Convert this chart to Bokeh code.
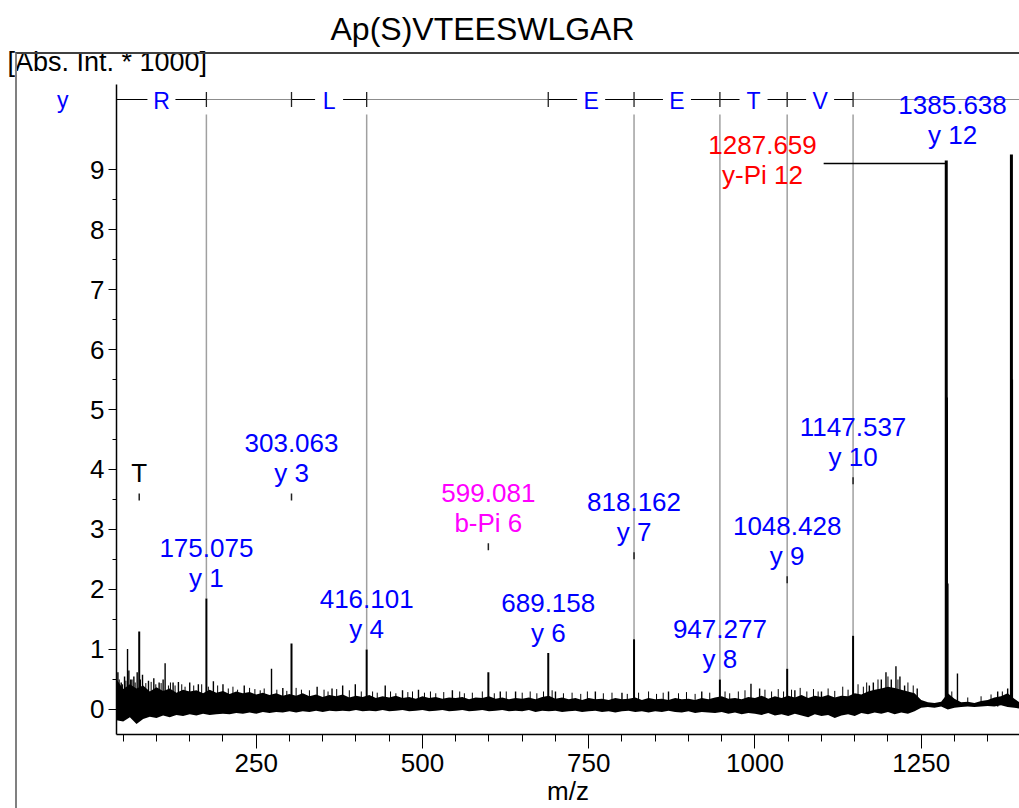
from bokeh.plotting import figure
from bokeh.models import (Range1d, FixedTicker, LinearAxis, Title, ColumnDataSource,
                          InlineStyleSheet)
from bokeh.embed import file_html
from bokeh.resources import INLINE
from bokeh.core.properties import value

FONT = "Liberation Sans"

# ---------------- data ----------------
title_text = "Ap(S)VTEESWLGAR"
y_title = "[Abs. Int. * 1000]"
x_title = "m/z"
series_name = "y"

x_ticks = [250, 500, 750, 1000, 1250]
x_minor = [50, 100, 150, 200, 300, 350, 400, 450, 550, 600, 650, 700, 800, 850,
           900, 950, 1050, 1100, 1150, 1200, 1300, 1350]
y_ticks = [0, 1, 2, 3, 4, 5, 6, 7, 8, 9]
y_minor = [0.5, 1.5, 2.5, 3.5, 4.5, 5.5, 6.5, 7.5, 8.5]

# labelled peaks
lab_mz = [74.06, 175.075, 303.063, 416.101, 599.081, 689.158, 818.162, 947.277,
          1048.428, 1147.537, 1287.659, 1385.638]
lab_int = [1.30, 1.85, 1.10, 1.00, 0.62, 0.94, 1.17, 0.50, 0.68, 1.23, 9.15, 9.25]
lab_value = ["", "175.075", "303.063", "416.101", "599.081", "689.158", "818.162",
             "947.277", "1048.428", "1147.537", "1287.659", "1385.638"]
lab_name = ["T", "y 1", "y 3", "y 4", "b-Pi 6", "y 6", "y 7", "y 8", "y 9", "y 10",
            "y-Pi 12", "y 12"]
lab_color = ["black", "blue", "blue", "blue", "magenta", "blue", "blue", "blue",
             "blue", "blue", "red", "blue"]
# where each label sits (intensity) and its centre m/z
lab_at = [3.60, 1.85, 3.60, 1.00, 2.77, 0.94, 2.62, 0.50, 2.22, 3.87, 8.57, 9.25]
lab_x = [74.06, 175.075, 303.063, 416.101, 599.081, 689.158, 818.162, 947.277,
         1048.428, 1147.537, 1011.4, 1297.1]
leader_from = 1103.3   # m/z where the y-Pi 12 leader line starts
leader_at = 9.10

# isotope peaks next to the big ions
iso_mz = [1288.66, 1289.66, 1386.64]
iso_int = [5.2, 2.1, 5.5]

# sequence ladder (y series)
ladder_res = ["R", "L", "E", "E", "T", "V"]
ladder_start = [19.018, 303.063, 689.158, 818.162, 947.277, 1048.428]
ladder_end = [175.075, 416.101, 818.162, 947.277, 1048.428, 1147.537]

# noise spikes
spike_mz = [42, 47, 52, 56.5, 58.5, 63, 66, 71, 79, 88, 96, 104, 110, 113, 125, 133,
            150, 163, 185.6, 200, 232, 273, 290, 341.6, 364, 380, 399, 444, 470, 494,
            545, 617, 640, 700, 760, 800, 870, 920, 994, 1007, 1060, 1100, 1172,
            1178, 1190, 1197, 1205, 1212, 1218, 1225, 1244, 1304.5, 1365, 1380]
spike_h = [0.62, 0.45, 0.55, 1.01, 0.65, 0.50, 0.55, 0.62, 0.58, 0.48, 0.52, 0.45,
           0.50, 0.77, 0.45, 0.46, 0.45, 0.42, 0.47, 0.42, 0.40, 0.68, 0.36, 0.38,
           0.35, 0.40, 0.42, 0.40, 0.32, 0.33, 0.32, 0.30, 0.30, 0.30, 0.30, 0.28,
           0.30, 0.30, 0.43, 0.35, 0.32, 0.30, 0.40, 0.45, 0.50, 0.62, 0.50, 0.72,
           0.55, 0.40, 0.35, 0.60, 0.30, 0.35]
fine_mz = [44, 49, 54, 61, 68, 76, 84, 92, 99, 107, 118, 121, 128, 138, 143, 156, 168,
           178, 192, 208, 215, 222, 240, 248, 256, 262, 281, 296, 310, 318, 330, 352,
           358, 371, 390, 408, 425, 432, 452, 460, 478, 485, 503, 512, 520, 532, 556,
           563, 575, 590, 608, 626, 650, 662, 672, 682, 695, 712, 725, 738, 748, 772,
           785, 808, 825, 840, 852, 862, 885, 897, 910, 932, 955, 962, 975, 985, 1015,
           1025, 1035, 1043, 1055, 1068, 1078, 1088, 1095, 1110, 1120, 1132, 1140,
           1155, 1163, 1168, 1185, 1200, 1215, 1230, 1238, 1296, 1320, 1340, 1355,
           1372]
fine_h = [0.50, 0.42, 0.48, 0.50, 0.45, 0.50, 0.44, 0.46, 0.42, 0.44, 0.40, 0.45,
          0.40, 0.42, 0.38, 0.40, 0.42, 0.38, 0.40, 0.35, 0.38, 0.33, 0.36, 0.34,
          0.32, 0.35, 0.33, 0.31, 0.36, 0.33, 0.32, 0.33, 0.30, 0.34, 0.32, 0.30,
          0.30, 0.28, 0.30, 0.27, 0.29, 0.30, 0.28, 0.30, 0.27, 0.29, 0.30, 0.27,
          0.28, 0.30, 0.27, 0.30, 0.28, 0.30, 0.27, 0.30, 0.32, 0.27, 0.28, 0.26,
          0.30, 0.27, 0.28, 0.26, 0.28, 0.30, 0.26, 0.28, 0.27, 0.29, 0.26, 0.28,
          0.30, 0.27, 0.30, 0.32, 0.33, 0.30, 0.34, 0.30, 0.33, 0.36, 0.30, 0.34,
          0.30, 0.35, 0.31, 0.38, 0.33, 0.42, 0.38, 0.45, 0.50, 0.55, 0.50, 0.45,
          0.40, 0.30, 0.20, 0.22, 0.25, 0.30]

# noise band envelope (every 10 m/z from 40 to 1400)
noise_mz = list(range(40, 1401, 10))
noise_hi = [0.50, 0.34, 0.42, 0.35, 0.40, 0.30, 0.37, 0.31, 0.35, 0.28,
            0.33, 0.30, 0.32, 0.27, 0.33, 0.28, 0.31, 0.26, 0.30, 0.27,
            0.29, 0.25, 0.28, 0.24, 0.27, 0.23, 0.26, 0.23, 0.27, 0.22,
            0.25, 0.21, 0.24, 0.22, 0.25, 0.20, 0.23, 0.21, 0.24, 0.19,
            0.22, 0.20, 0.23, 0.19, 0.21, 0.18, 0.22, 0.19, 0.21, 0.18,
            0.20, 0.19, 0.21, 0.17, 0.20, 0.19, 0.22, 0.18, 0.20, 0.17,
            0.19, 0.18, 0.20, 0.17, 0.21, 0.23, 0.18, 0.20, 0.17, 0.19,
            0.16, 0.19, 0.17, 0.18, 0.16, 0.19, 0.17, 0.18, 0.20, 0.16,
            0.19, 0.17, 0.18, 0.16, 0.19, 0.17, 0.18, 0.16, 0.19, 0.17,
            0.20, 0.22, 0.18, 0.19, 0.17, 0.21, 0.19, 0.23, 0.18, 0.22,
            0.19, 0.23, 0.20, 0.24, 0.19, 0.23, 0.21, 0.24, 0.20, 0.23,
            0.22, 0.27, 0.25, 0.30, 0.33, 0.35, 0.38, 0.36, 0.33, 0.30,
            0.27, 0.16, 0.12, 0.11, 0.13, 0.27, 0.18, 0.12, 0.13, 0.11,
            0.14, 0.16, 0.20, 0.22, 0.27, 0.18, 0.10]
noise_lo = [-0.18, -0.20, -0.13, -0.24, -0.16, -0.12, -0.14, -0.10, -0.13, -0.09,
            -0.11, -0.08, -0.10, -0.07, -0.09, -0.08, -0.07, -0.08, -0.06, -0.07,
            -0.05, -0.07, -0.04, -0.06, -0.04, -0.05, -0.03, -0.05, -0.03, -0.04,
            -0.02, -0.04, -0.02, -0.03, -0.02, -0.03, -0.01, -0.03, -0.02, -0.03,
            -0.01, -0.03, -0.02, -0.01, -0.03, -0.02, -0.01, -0.03, -0.02, -0.01,
            -0.03, -0.02, -0.01, -0.03, -0.02, -0.01, -0.03, -0.02, -0.01, -0.03,
            -0.02, -0.03, -0.01, -0.04, -0.02, -0.03, -0.02, -0.04, -0.03, -0.02,
            -0.04, -0.03, -0.02, -0.04, -0.03, -0.05, -0.03, -0.02, -0.04, -0.03,
            -0.05, -0.03, -0.04, -0.02, -0.04, -0.05, -0.03, -0.06, -0.04, -0.05,
            -0.06, -0.04, -0.07, -0.05, -0.08, -0.06, -0.07, -0.09, -0.06, -0.10,
            -0.08, -0.11, -0.07, -0.10, -0.13, -0.08, -0.11, -0.09, -0.14, -0.10,
            -0.08, -0.11, -0.06, -0.08, -0.05, -0.07, -0.04, -0.08, -0.05, -0.07,
            -0.03, 0.03, 0.04, 0.03, 0.05, 0.00, 0.03, 0.04, 0.05, 0.04,
            0.05, 0.06, 0.05, 0.07, 0.04, 0.03, 0.01]

# ---------------- layout ----------------
W, H = 1019, 808
FL, FR, FT, FB = 116, 1019, 84, 734          # frame edges in canvas px
X0, X1 = 39.9, 1397.8
Y0, Y1 = -0.417, 10.417
PXV = (FB - FT) / (Y1 - Y0)                  # px per intensity unit
PXM = (FR - FL) / (X1 - X0)                  # px per m/z unit


def dv(px):
    return px / PXV


def dm(px):
    return px / PXM


def v_at(py):
    return Y0 + (FB - py) / PXV


p = figure(width=W, height=H, x_range=Range1d(X0, X1), y_range=Range1d(Y0, Y1),
           output_backend="svg", toolbar_location=None,
           min_border_left=FL, min_border_right=W - FR,
           min_border_top=FT, min_border_bottom=H - FB)
p.outline_line_color = None
p.grid.visible = False
p.background_fill_color = "white"
p.border_fill_color = "white"

xa = p.xaxis[0]
xa.ticker = FixedTicker(ticks=x_ticks, minor_ticks=x_minor)
xa.major_tick_out = 14
xa.major_tick_in = 0
xa.minor_tick_out = 7
xa.minor_tick_in = 0
xa.major_label_standoff = 5
xa.major_label_text_font = FONT
xa.major_label_text_font_size = "26px"
xa.major_label_text_color = "black"
xa.axis_line_color = "black"
xa.axis_line_width = 1.5
xa.major_tick_line_color = "black"
xa.minor_tick_line_color = "black"
xa.axis_label = x_title
xa.axis_label_standoff = 1
xa.axis_label_text_font = FONT
xa.axis_label_text_font_size = "26px"
xa.axis_label_text_font_style = "normal"
xa.axis_label_text_color = "black"

ya = p.yaxis[0]
ya.ticker = FixedTicker(ticks=y_ticks, minor_ticks=y_minor)
ya.major_tick_out = 8
ya.major_tick_in = 0
ya.minor_tick_out = 4
ya.minor_tick_in = 0
ya.major_label_standoff = 4
ya.major_label_text_font = FONT
ya.major_label_text_font_size = "26px"
ya.major_label_text_color = "black"
ya.axis_line_color = "black"
ya.axis_line_width = 1.5
ya.major_tick_line_color = "black"
ya.minor_tick_line_color = "black"

# ---------------- fragment ladder ----------------
LAD_Y = v_at(99)
LAD_TXT = v_at(100)
TICK_H = dv(7.5)
ION_TOP = v_at(114)
GAP = dm(14)

# series name "y" left of the axis, carried by a second (invisible) left axis
ya2 = LinearAxis(ticker=FixedTicker(ticks=[LAD_Y], minor_ticks=[]),
                 major_label_overrides={LAD_Y: series_name})
ya2.axis_line_color = None
ya2.major_tick_line_color = None
ya2.minor_tick_line_color = None
ya2.major_tick_out = 0
ya2.major_tick_in = 0
ya2.major_label_standoff = 19
ya2.major_label_text_font = FONT
ya2.major_label_text_font_size = "23px"
ya2.major_label_text_color = "blue"
p.add_layout(ya2, "left")

vis_start = [max(s, X0) for s in ladder_start]
centers = [(s + e) / 2 for s, e in zip(vis_start, ladder_end)]

bx0, bx1 = [], []
for s, c, e in zip(vis_start, centers, ladder_end):
    bx0 += [s, c + GAP]
    bx1 += [c - GAP, e]
p.segment(x0=bx0, y0=[LAD_Y] * len(bx0), x1=bx1, y1=[LAD_Y] * len(bx1),
          line_color="black", line_width=1)

gx0, gx1 = [], []
for i in range(len(ladder_end)):
    nxt = ladder_start[i + 1] if i + 1 < len(ladder_start) else X1
    if nxt > ladder_end[i]:
        gx0.append(ladder_end[i])
        gx1.append(nxt)
p.segment(x0=gx0, y0=[LAD_Y] * len(gx0), x1=gx1, y1=[LAD_Y] * len(gx1),
          line_color="#8c8c8c", line_width=1)

bounds = sorted(set([s for s in ladder_start if s > X0] + ladder_end))
p.segment(x0=bounds, y0=[LAD_Y - TICK_H] * len(bounds), x1=bounds,
          y1=[LAD_Y + TICK_H] * len(bounds), line_color="#222222", line_width=1.3)
p.text(x=centers, y=[LAD_TXT] * len(centers), text=ladder_res, text_color="blue",
       text_font=value(FONT), text_font_size="23px", text_align="center",
       text_baseline="middle")

# grey ion lines from ladder down to the peak tops
ion_top = {m: h for m, h in zip(lab_mz, lab_int)}
ion_h = [ion_top[b] for b in ladder_end]
p.segment(x0=ladder_end, y0=[ION_TOP] * len(ladder_end), x1=ladder_end, y1=ion_h,
          line_color="#a0a0a0", line_width=1.5)

# ---------------- spectrum ----------------
p.varea(x=noise_mz, y1=noise_lo, y2=noise_hi, fill_color="black")
p.segment(x0=fine_mz, y0=[0.08] * len(fine_mz), x1=fine_mz, y1=fine_h,
          line_color="black", line_width=1)
p.segment(x0=spike_mz, y0=[0.05] * len(spike_mz), x1=spike_mz, y1=spike_h,
          line_color="black", line_width=1.4)
p.segment(x0=iso_mz, y0=[0.05] * len(iso_mz), x1=iso_mz, y1=iso_int,
          line_color="black", line_width=2)
widths = [3 if h > 5 else 2 for h in lab_int]
p.segment(x0=lab_mz, y0=[0.05] * len(lab_mz), x1=lab_mz, y1=lab_int,
          line_color="black", line_width=widths)

# ---------------- peak annotations ----------------
tk_x, tk_y0, tk_y1 = [], [], []
for m, h, a, lx in zip(lab_mz, lab_int, lab_at, lab_x):
    if a > h + 0.05 and lx == m:
        tk_x.append(m)
        tk_y0.append(a - dv(7))
        tk_y1.append(a)
p.segment(x0=tk_x, y0=tk_y0, x1=tk_x, y1=tk_y1, line_color="#222222", line_width=1.5)

# leader for the displaced y-Pi 12 label
p.segment(x0=[leader_from], y0=[leader_at], x1=[lab_mz[lab_name.index("y-Pi 12")]],
          y1=[leader_at], line_color="black", line_width=1.5)

src = ColumnDataSource(dict(
    x=lab_x,
    y2=[a + dv(20) for a in lab_at],
    y1=[a + dv(50) for a in lab_at],
    name=lab_name, val=lab_value, color=lab_color))
p.text(x="x", y="y2", text="name", text_color="color", source=src,
       text_font=value(FONT), text_font_size="26px", text_align="center",
       text_baseline="middle")
p.text(x="x", y="y1", text="val", text_color="color", source=src,
       text_font=value(FONT), text_font_size="26px", text_align="center",
       text_baseline="middle")

# ---------------- titles above the frame ----------------
t_abs = Title(text=y_title, align="left", offset=-109, standoff=15,
              text_font=FONT, text_font_size="27px", text_font_style="normal",
              text_color="black")
t_main = Title(text=title_text, align="left", offset=214, standoff=-19,
               text_font=FONT, text_font_size="32px", text_font_style="normal",
               text_color="black")
p.add_layout(t_abs, "above")
p.add_layout(t_main, "above")

# outer frame lines of the page
p.stylesheets = [InlineStyleSheet(css=(
    ":host::after { content: ''; position: absolute; left: 15px; top: 52px; "
    "right: 0px; bottom: 0px; border-left: 2px solid #808080; "
    "border-top: 2px solid #404040; pointer-events: none; z-index: 10; }"))]

open("out.html", "w").write(file_html(p, INLINE))
